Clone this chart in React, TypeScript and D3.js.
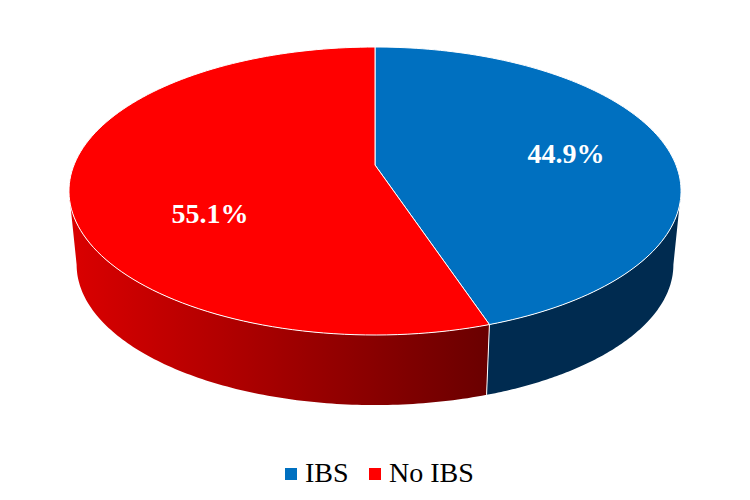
import React from "react";
import * as d3 from "d3";

const categories = ["IBS", "No IBS"];
const shares = [44.9, 55.1];
const labels = ["44.9%", "55.1%"];
const topColors = ["#0070C0", "#FF0000"];
const sideColors = ["#002B50", "url(#redSide)"];

const W = 750, H = 500;
const cx = 375, cy = 165;
const a = 301, b = 139.3, k = 0.1806;
const depth = 74.3, shrink = 0.975;

const rim = (t: number, lower = false): [number, number] => {
  const d = 1 + k * Math.cos(t);
  const s = lower ? shrink : 1;
  const x = cx + (s * a * Math.sin(t)) / d;
  const y = cy + (lower ? depth : 0) - (s * b * Math.cos(t)) / d;
  return [x, y];
};

const sample = (t0: number, t1: number, lower = false): [number, number][] =>
  d3.range(0, 121).map((i) => rim(t0 + ((t1 - t0) * i) / 120, lower));

const line = d3.line<[number, number]>().x((p) => p[0]).y((p) => p[1]);

const pie = d3.pie<number>().sort(null).value((v) => v);
const arcs = pie(shares);

const edge = Math.acos(-k); // silhouette tangent on the right
const edgeL = 2 * Math.PI - edge;

export default function App() {
  return (
    <svg
      width={W}
      height={H}
      viewBox={`0 0 ${W} ${H}`}
      style={{ position: "absolute", left: 0, top: 0, background: "#fff" }}
    >
      <defs>
        <linearGradient id="redSide" gradientUnits="userSpaceOnUse" x1={80} x2={487} y1={0} y2={0}>
          <stop offset="0" stopColor="#D80000" />
          <stop offset="1" stopColor="#6A0000" />
        </linearGradient>
      </defs>
      {arcs.map((d, i) => {
        const s = Math.max(d.startAngle, edge);
        const e = Math.min(d.endAngle, edgeL);
        const pts = [...sample(s, e), ...sample(e, s, true)];
        return (
          <path key={`side-${i}`} d={(line(pts) ?? "") + "Z"} fill={sideColors[i]} />
        );
      })}
      <path
        d={line([rim(arcs[0].endAngle), rim(arcs[0].endAngle, true)]) ?? ""}
        stroke="#fff"
        strokeWidth={1}
        fill="none"
      />
      {arcs.map((d, i) => {
        const pts: [number, number][] = [[cx, cy], ...sample(d.startAngle, d.endAngle)];
        return (
          <path
            key={`top-${i}`}
            d={(line(pts) ?? "") + "Z"}
            fill={topColors[i]}
            stroke="#fff"
            strokeWidth={1}
            strokeLinejoin="round"
          />
        );
      })}
      <text x={566} y={163} textAnchor="middle" fill="#fff" fontFamily="'Liberation Serif'" fontWeight="bold" fontSize={28}>
        {labels[0]}
      </text>
      <text x={210} y={223} textAnchor="middle" fill="#fff" fontFamily="'Liberation Serif'" fontWeight="bold" fontSize={28}>
        {labels[1]}
      </text>
      <rect x={285} y={468} width={12} height={12} fill={topColors[0]} />
      <text x={305} y={482} fill="#000" fontFamily="'Liberation Serif'" fontSize={28}>
        {categories[0]}
      </text>
      <rect x={369} y={468} width={12} height={12} fill={topColors[1]} />
      <text x={389} y={482} fill="#000" fontFamily="'Liberation Serif'" fontSize={28}>
        {categories[1]}
      </text>
    </svg>
  );
}
